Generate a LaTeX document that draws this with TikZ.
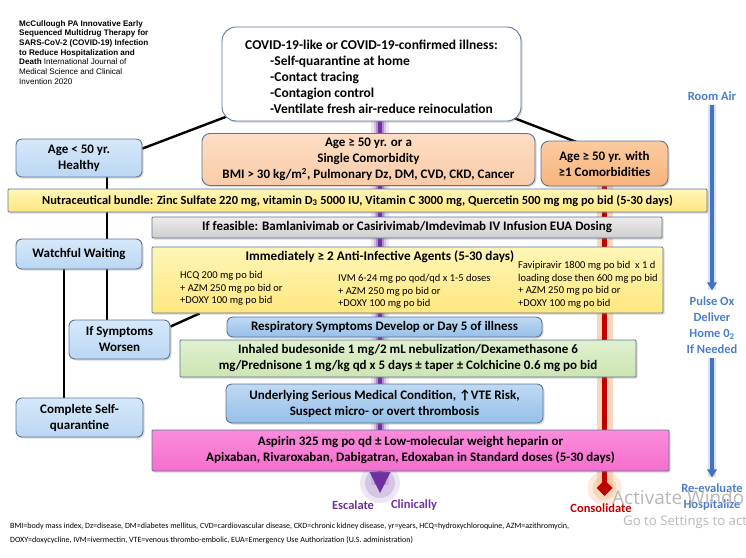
\documentclass[tikz,border=0pt]{standalone}
\usepackage{fontspec}
\setmainfont{Carlito}
\newfontfamily\citefont{Liberation Sans}
\newfontfamily\winfont{Open Sans}
\usetikzlibrary{shadows,backgrounds}
\definecolor{boxline}{HTML}{5B7595}
\definecolor{escpurple}{HTML}{7030A0}
\definecolor{conred}{HTML}{C00000}
\definecolor{conglow}{HTML}{F8C49C}
\definecolor{oxblue}{HTML}{4472C4}
\definecolor{oxtext}{HTML}{4A7EC8}
\tikzset{my box/.style={
  draw=boxline,
  line width=0.9pt,
  rounded corners=6pt,
  align=center,
  inner sep=0pt,
  font=\bfseries\fontsize{13}{16}\selectfont,
  drop shadow={shadow xshift=1.5pt,shadow yshift=-1.5pt,opacity=0.3}
  }
}
\tikzset{blue box/.style={my box, top color={rgb,255:red,214;green,232;blue,250}, bottom color={rgb,255:red,187;green,215;blue,243}}}
\tikzset{white box/.style={my box, fill=white, rounded corners=14pt}}
\tikzset{peach box/.style={my box, rounded corners=8pt, top color={rgb,255:red,253;green,221;blue,196}, bottom color={rgb,255:red,250;green,204;blue,168}}}
\tikzset{orange box/.style={my box, rounded corners=8pt, top color={rgb,255:red,251;green,203;blue,160}, bottom color={rgb,255:red,247;green,180;blue,124}}}
\tikzset{yellow bar/.style={my box, rounded corners=1pt, top color={rgb,255:red,255;green,246;blue,182}, bottom color={rgb,255:red,255;green,231;blue,128}}}
\tikzset{gray bar/.style={my box, rounded corners=1pt, top color={rgb,255:red,236;green,236;blue,236}, bottom color={rgb,255:red,206;green,206;blue,206}}}
\tikzset{resp box/.style={my box, rounded corners=6pt, top color={rgb,255:red,190;green,217;blue,243}, bottom color={rgb,255:red,150;green,192;blue,232}}}
\tikzset{green bar/.style={my box, rounded corners=1pt, top color={rgb,255:red,224;green,240;blue,208}, bottom color={rgb,255:red,204;green,229;blue,178}}}
\tikzset{pink bar/.style={my box, rounded corners=1pt, top color={rgb,255:red,251;green,140;blue,220}, bottom color={rgb,255:red,245;green,110;blue,205}}}
\tikzset{drug list/.style={anchor=north west, align=left, inner sep=0pt, font=\fontsize{10.5}{12.7}\selectfont}}
\tikzset{path label/.style={inner sep=0pt, align=center, font=\bfseries\fontsize{12.5}{16}\selectfont}}
\tikzset{my line/.style={black, line width=2.4pt}}

\begin{document}
\begin{tikzpicture}[x=1pt,y=-1pt]
    \useasboundingbox (0,0) rectangle (746,557);

    \node[anchor=north west, align=left, inner sep=0pt, font=\citefont\fontsize{8.1}{9.7}\selectfont] (cite) at (19,20)
        {\textbf{McCullough PA Innovative Early}\\\textbf{Sequenced Multidrug Therapy for}\\\textbf{SARS-CoV-2 (COVID-19) Infection}\\\textbf{to Reduce Hospitalization and}\\\textbf{Death} International Journal of\\Medical Science and Clinical\\Invention 2020};

    \node[white box, minimum width=299pt, minimum height=94pt] (topbox) at (371.5,74) {};
    \node[align=left, inner sep=0pt, font=\bfseries\fontsize{13.5}{16}\selectfont] (topnote) at (371.5,77)
        {COVID-19-like or COVID-19-confirmed illness:\\\hspace*{25pt}-Self-quarantine at home\\\hspace*{25pt}-Contact tracing\\\hspace*{25pt}-Contagion control\\\hspace*{25pt}-Ventilate fresh air-reduce reinoculation};

    \node[blue box, minimum width=126pt, minimum height=38pt] (young) at (79,158) {Age < 50 yr.\\Healthy};
    \node[peach box, minimum width=333pt, minimum height=52pt] (single) at (368.5,159.5)
        {Age ≥ 50 yr. or a\\Single Comorbidity\\BMI > 30 kg/m\textsuperscript{2}, Pulmonary Dz, DM, CVD, CKD, Cancer};
    \node[orange box, minimum width=127pt, minimum height=45pt] (multi) at (604.5,163.5) {Age ≥ 50 yr. with\\≥1 Comorbidities};

    \node[yellow bar, font=\bfseries\fontsize{12.4}{16}\selectfont, minimum width=699pt, minimum height=23pt] (nutra) at (357.5,200.5)
        {Nutraceutical bundle: Zinc Sulfate 220 mg, vitamin D\textsubscript{3} 5000 IU, Vitamin C 3000 mg, Quercetin 500 mg mg po bid (5-30 days)};
    \node[gray bar, minimum width=510pt, minimum height=21pt] (feasible) at (407,227.5)
        {If feasible: Bamlanivimab or Casirivimab/Imdevimab IV Infusion EUA Dosing};

    \node[blue box, minimum width=126pt, minimum height=30pt] (watch) at (79,254) {Watchful Waiting};

    \node[yellow bar, minimum width=511pt, minimum height=66pt] (anti) at (407.5,280) {};
    \node[path label, font=\bfseries\fontsize{13.2}{16}\selectfont] (antititle) at (380,257) {Immediately ≥ 2 Anti-Infective Agents (5-30 days)};
    \node[drug list] (hcq) at (180,271) {HCQ 200 mg po bid\\+ AZM 250 mg po bid or\\+DOXY 100 mg po bid};
    \node[drug list] (ivm) at (338,274) {IVM 6-24 mg po qod/qd x 1-5 doses\\+ AZM 250 mg po bid or\\+DOXY 100 mg po bid};
    \node[drug list] (favi) at (518,261) {Favipiravir 1800 mg po bid\ \ x 1 d\\loading dose then 600 mg po bid\\+ AZM 250 mg po bid or\\+DOXY 100 mg po bid};

    \node[blue box, minimum width=101pt, minimum height=39pt] (worsen) at (119.5,339.5) {If Symptoms\\Worsen};
    \node[resp box, minimum width=315pt, minimum height=20pt] (resp) at (384.5,327) {Respiratory Symptoms Develop or Day 5 of illness};
    \node[green bar, minimum width=456pt, minimum height=37pt] (inhaled) at (408,358.5)
        {Inhaled budesonide 1 mg/2 mL nebulization/Dexamethasone 6\\mg/Prednisone 1 mg/kg qd x 5 days ± taper ± Colchicine 0.6 mg po bid};
    \node[resp box, minimum width=317pt, minimum height=39pt] (under) at (384.5,403.5)
        {Underlying Serious Medical Condition, ↑VTE Risk,\\Suspect micro- or overt thrombosis};
    \node[blue box, minimum width=127pt, minimum height=39pt] (complete) at (79.5,417.5) {Complete Self-\\quarantine};
    \node[pink bar, minimum width=517pt, minimum height=41pt] (aspirin) at (410.5,450.5)
        {Aspirin 325 mg po qd ± Low-molecular weight heparin or\\Apixaban, Rivaroxaban, Dabigatran, Edoxaban in Standard doses (5-30 days)};

    % labels along the three tracks
    \node[path label, escpurple] (escalate) at (353,505) {Escalate};
    \node[path label, escpurple] (clinically) at (414,505) {Clinically};
    \node[path label, conred] (consolidate) at (601,508) {Consolidate};
    \node[path label, oxtext] (roomair) at (712,96) {Room Air};
    \node[path label, oxtext] (pulseox) at (712,325) {Pulse Ox\\Deliver\\Home 0\textsubscript{2}\\If Needed};
    \node[path label, oxtext] (reeval) at (712,497) {Re-evaluate\\Hospitalize};

    \node[anchor=north west, align=left, inner sep=0pt, font=\fontsize{8}{14}\selectfont] (legend) at (10,523)
        {BMI=body mass index, Dz=disease, DM=diabetes mellitus, CVD=cardiovascular disease, CKD=chronic kidney disease, yr=years, HCQ=hydroxychloroquine, AZM=azithromycin,\\DOXY=doxycycline, IVM=ivermectin, VTE=venous thrombo-embolic, EUA=Emergency Use Authorization (U.S. administration)};

    \node[anchor=base west, inner sep=0pt, text=black!28, font=\winfont\fontsize{19}{20}\selectfont] (winmark) at (612,504) {Activate Windo};
    \node[anchor=base west, inner sep=0pt, text=black!28, font=\winfont\fontsize{13.2}{14}\selectfont] (winhint) at (623,525) {Go to Settings to act};

    \coordinate (esctip) at (380,493);
    \coordinate (contip) at (604.5,496);

    \begin{scope}[on background layer]
        \draw[my line] ([xshift=8pt,yshift=6pt]topbox.south west) -- ([yshift=-10pt]young.north east);
        \draw[my line] ([xshift=-9pt,yshift=4pt]topbox.south east) -- ([xshift=40pt,yshift=-3pt]multi.north west);
        \draw[my line] ([xshift=28pt]young.south) -- ([xshift=28pt]watch.north);
        \draw[my line] ([xshift=28pt]watch.south) -- ([xshift=28pt]watch.south |- worsen.north);
        \draw[my line] ([xshift=-15pt]watch.south) -- ([xshift=-15pt]watch.south |- complete.north);
        \draw[my line] ([yshift=-7pt]worsen.north east) -- ([xshift=48pt]anti.south west);

        % escalate track
        \foreach \w/\o in {18/0.12,12/0.2,8/0.35}
            \draw[line width=\w pt, draw=escpurple, opacity=\o] (esctip |- topbox.south) -- ([yshift=8pt]esctip);
        \foreach \r/\o in {20/0.12,15/0.18}
            \fill[escpurple, opacity=\o] ([yshift=10pt]esctip) circle (\r pt);
        \draw[line width=4.5pt, draw=escpurple] (esctip |- topbox.south) -- ([yshift=20pt]esctip);
        \fill[escpurple] (esctip) -- ++(-10.5,-21) -- ++(21,0) -- cycle;

        % consolidate track
        \draw[line width=16pt, draw=conglow, opacity=0.7] (multi.south) -- ([yshift=8pt]contip);
        \foreach \r/\o in {17/0.35,12/0.5}
            \fill[conglow, opacity=\o] ([yshift=8pt]contip) circle (\r pt);
        \draw[line width=5pt, draw=conred] (multi.south) -- ([yshift=12pt]contip);
        \fill[conred] (contip) -- ++(-8,-8) -- ++(8,-8) -- ++(8,8) -- cycle;

        % oxygen track
        \foreach \a/\b in {roomair/pulseox,pulseox/reeval} {
            \draw[line width=8pt, draw=oxblue!35, opacity=0.6] ([yshift=-4pt]\a.south) -- ([yshift=6pt]\b.north);
            \draw[line width=3.5pt, draw=oxblue] ([yshift=-4pt]\a.south) -- ([yshift=12pt]\b.north);
            \fill[oxblue] ([yshift=6pt]\b.north) -- ++(-5,-8) -- ++(10,0) -- cycle;
        }
    \end{scope}
\end{tikzpicture}
\end{document}
